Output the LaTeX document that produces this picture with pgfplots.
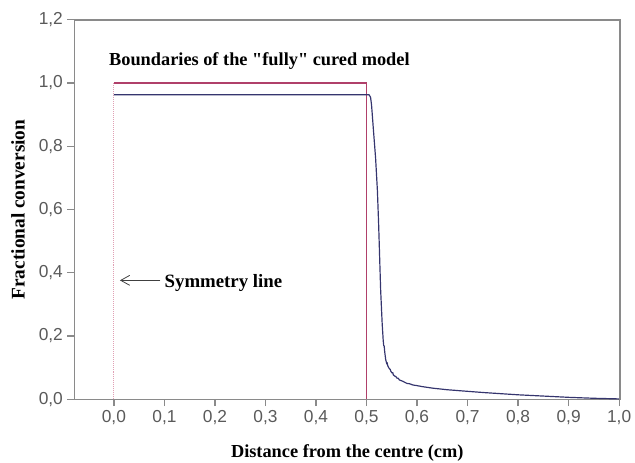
\documentclass[border=0pt]{standalone}
\usepackage{fontspec}
\setmainfont{Liberation Serif}
\newfontfamily\qfont{Liberation Serif}
\newfontfamily\arialf{Liberation Sans}
\usepackage{pgfplots}
\pgfplotsset{compat=1.18}
\usetikzlibrary{arrows.meta}
\definecolor{axgray}{HTML}{8A8A8A}
\definecolor{tickgray}{HTML}{5A5A5A}
\definecolor{bnd}{HTML}{B0406A}
\definecolor{conv}{HTML}{35356E}
\definecolor{sym}{HTML}{E0A0B4}
\begin{document}
\begin{tikzpicture}[x=1pt,y=1pt]
\begin{axis}[
  at={(0,0)}, anchor=south west,
  scale only axis, width=551pt, height=383pt,
  xmin=-0.0784, xmax=1.002, ymin=0, ymax=1.2,
  xtick={0,0.1,...,1.0}, ytick={0,0.2,...,1.2},
  tick pos=left, tick align=outside,
  major tick length=7pt,
  axis line style={axgray, line width=1.4pt},
  every tick/.style={axgray, line width=1.2pt},
  /pgf/number format/.cd, use comma, fixed, fixed zerofill, precision=1, assume math mode=true,
  /pgfplots/.cd,
  ticklabel style={font=\arialf\fontsize{17.5}{20}\selectfont, text=tickgray},
  yticklabel style={xshift=-1pt},
  xticklabel style={yshift=-1pt},
  xlabel={Distance from the centre (cm)},
  ylabel={Fractional conversion},
  xlabel style={font=\bfseries\fontsize{18.5}{21}\selectfont, at={(axis description cs:0.5,-0.141)}, anchor=center},
  ylabel style={font=\bfseries\fontsize{19.5}{22}\selectfont, at={(axis description cs:-0.103,0.5)}, anchor=center, rotate=0},
  clip=false,
]
\addplot[sym, densely dotted, line width=1pt] coordinates {(0,0) (0,1.0)};
\addplot[bnd, line width=1.4pt] coordinates {(0,1.0) (0.5,1.0) (0.5,0)};
\addplot[conv, line width=1.2pt] coordinates {
(0,0.963) (0.25,0.963) (0.505,0.963) (0.508,0.955) (0.510,0.93) (0.513,0.866)
(0.518,0.762) (0.5216,0.658) (0.524,0.553) (0.526,0.448) (0.528,0.344)
(0.531,0.239) (0.533,0.187) (0.534,0.170) (0.535,0.168) (0.536,0.150)
(0.538,0.125) (0.540,0.113) (0.541,0.114) (0.542,0.106) (0.545,0.097)
(0.547,0.094) (0.548,0.089) (0.550,0.084) (0.552,0.084) (0.553,0.077)
(0.556,0.073) (0.558,0.072) (0.560,0.067) (0.563,0.066) (0.565,0.061)
(0.570,0.058) (0.573,0.056) (0.575,0.054) (0.580,0.050) (0.585,0.049)
(0.592,0.045) (0.60,0.043) (0.61,0.040) (0.631,0.035) (0.66,0.030)
(0.70,0.025) (0.733,0.021) (0.80,0.014) (0.85,0.010) (0.90,0.006)
(0.95,0.003) (1.0,0.001)};
\node[anchor=west, font=\qfont\bfseries\fontsize{18.5}{21}\selectfont, inner sep=0pt] at (axis cs:-0.0098,1.069) {Boundaries of the "fully" cured model};
\draw[black!75, line width=0.8pt, -{Straight Barb[length=9pt,width=10pt]}] (axis cs:0.092,0.376) -- (axis cs:0.012,0.376);
\node[anchor=west, font=\bfseries\fontsize{19}{22}\selectfont, inner sep=0pt] at (axis cs:0.1,0.368) {Symmetry line};
\draw[axgray, line width=1.4pt] (rel axis cs:0,1) -- (rel axis cs:1,1) -- (rel axis cs:1,0);
\end{axis}
\pgfresetboundingbox
\useasboundingbox (-75pt,-64pt) rectangle (566pt,403pt);
\end{tikzpicture}
\end{document}
